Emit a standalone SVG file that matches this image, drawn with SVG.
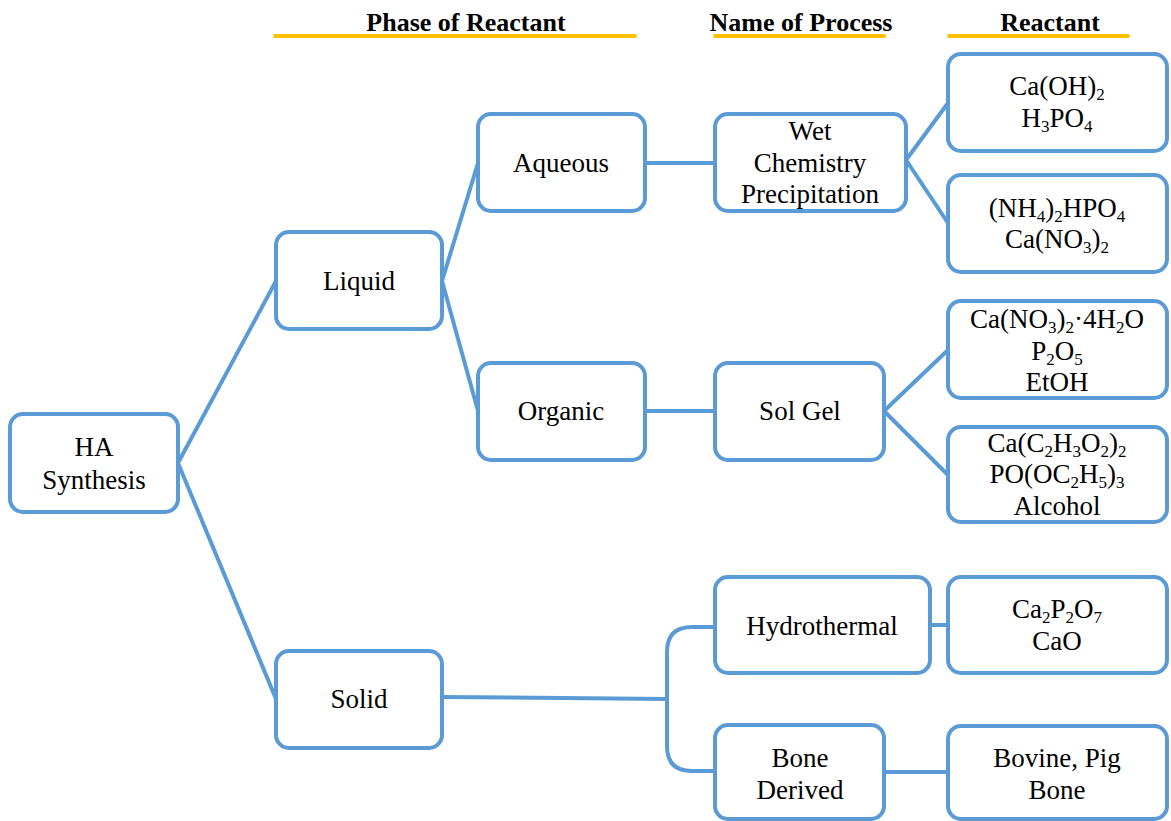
<svg xmlns="http://www.w3.org/2000/svg" width="1171" height="821" viewBox="0 0 1171 821">
<defs>
<style>
.box{fill:#fff;stroke:#5B9BD5;stroke-width:4}
.con{fill:none;stroke:#5B9BD5;stroke-width:4}
.ul{stroke:#FFC000;stroke-width:4;stroke-linecap:round}
.s{font-size:17px}
</style>
</defs>
<rect width="1171" height="821" fill="#fff"/>
<g id="headers" font-family="Liberation Serif" font-size="26" font-weight="bold" text-anchor="middle" fill="#000">
<text x="466" y="31">Phase of Reactant</text>
<line class="ul" x1="275" y1="36" x2="635" y2="36"/>
<text x="801" y="31">Name of Process</text>
<line class="ul" x1="715" y1="36" x2="884" y2="36"/>
<text x="1050" y="31">Reactant</text>
<line class="ul" x1="949" y1="36" x2="1128" y2="36"/>
</g>
<g id="connectors">
<path class="con" d="M178,463 L276,281 M178,463 L276,699"/>
<path class="con" d="M442,281 L478,163 M442,281 L478,411"/>
<path class="con" d="M645,163 H715 M645,411 H715"/>
<path class="con" d="M906,160 L948,103 M906,160 L948,223"/>
<path class="con" d="M884,411 L948,350 M884,411 L948,475"/>
<path class="con" d="M442,697 L667,699"/>
<path class="con" d="M715,627 H692 Q667,627 667,652 V746 Q667,771 692,771 H715"/>
<path class="con" d="M930,625 H948 M884,772 H948"/>
</g>
<g id="nodes" font-family="Liberation Serif" font-size="27" text-anchor="middle" fill="#000">
<g id="ha"><rect class="box" x="10" y="414" width="168" height="98" rx="13"/>
<text x="94" y="456">HA</text><text x="94" y="489">Synthesis</text></g>
<g id="liquid"><rect class="box" x="276" y="232" width="166" height="97" rx="13"/>
<text x="359" y="290">Liquid</text></g>
<g id="solid"><rect class="box" x="276" y="651" width="166" height="97" rx="13"/>
<text x="359" y="708">Solid</text></g>
<g id="aqueous"><rect class="box" x="478" y="114" width="167" height="97" rx="13"/>
<text x="561" y="172">Aqueous</text></g>
<g id="organic"><rect class="box" x="478" y="363" width="167" height="97" rx="13"/>
<text x="561" y="420">Organic</text></g>
<g id="wet"><rect class="box" x="715" y="114" width="191" height="97" rx="13"/>
<text x="810" y="140">Wet</text><text x="810" y="172">Chemistry</text><text x="810" y="203">Precipitation</text></g>
<g id="solgel"><rect class="box" x="715" y="363" width="169" height="97" rx="13"/>
<text x="800" y="420">Sol Gel</text></g>
<g id="hydro"><rect class="box" x="715" y="577" width="215" height="96" rx="13"/>
<text x="822" y="635">Hydrothermal</text></g>
<g id="bone"><rect class="box" x="715" y="725" width="169" height="94" rx="13"/>
<text x="800" y="767">Bone</text><text x="800" y="799">Derived</text></g>
<g id="r1"><rect class="box" x="948" y="54" width="219" height="97" rx="13"/>
<text x="1057" y="95">Ca(OH)<tspan class="s" dy="5">2</tspan></text>
<text x="1057" y="127">H<tspan class="s" dy="5">3</tspan><tspan dy="-5">PO</tspan><tspan class="s" dy="5">4</tspan></text></g>
<g id="r2"><rect class="box" x="948" y="175" width="219" height="97" rx="13"/>
<text x="1057" y="217">(NH<tspan class="s" dy="5">4</tspan><tspan dy="-5">)</tspan><tspan class="s" dy="5">2</tspan><tspan dy="-5">HPO</tspan><tspan class="s" dy="5">4</tspan></text>
<text x="1057" y="248">Ca(NO<tspan class="s" dy="5">3</tspan><tspan dy="-5">)</tspan><tspan class="s" dy="5">2</tspan></text></g>
<g id="r3"><rect class="box" x="948" y="301" width="219" height="97" rx="13"/>
<text x="1057" y="328">Ca(NO<tspan class="s" dy="5">3</tspan><tspan dy="-5">)</tspan><tspan class="s" dy="5">2</tspan><tspan dy="-5">&#183;4H</tspan><tspan class="s" dy="5">2</tspan><tspan dy="-5">O</tspan></text>
<text x="1057" y="360">P<tspan class="s" dy="5">2</tspan><tspan dy="-5">O</tspan><tspan class="s" dy="5">5</tspan></text>
<text x="1057" y="391">EtOH</text></g>
<g id="r4"><rect class="box" x="948" y="427" width="219" height="95" rx="13"/>
<text x="1057" y="452">Ca(C<tspan class="s" dy="5">2</tspan><tspan dy="-5">H</tspan><tspan class="s" dy="5">3</tspan><tspan dy="-5">O</tspan><tspan class="s" dy="5">2</tspan><tspan dy="-5">)</tspan><tspan class="s" dy="5">2</tspan></text>
<text x="1057" y="483">PO(OC<tspan class="s" dy="5">2</tspan><tspan dy="-5">H</tspan><tspan class="s" dy="5">5</tspan><tspan dy="-5">)</tspan><tspan class="s" dy="5">3</tspan></text>
<text x="1057" y="515">Alcohol</text></g>
<g id="r5"><rect class="box" x="948" y="577" width="219" height="96" rx="13"/>
<text x="1057" y="618">Ca<tspan class="s" dy="5">2</tspan><tspan dy="-5">P</tspan><tspan class="s" dy="5">2</tspan><tspan dy="-5">O</tspan><tspan class="s" dy="5">7</tspan></text>
<text x="1057" y="650">CaO</text></g>
<g id="r6"><rect class="box" x="948" y="726" width="219" height="93" rx="13"/>
<text x="1057" y="767">Bovine, Pig</text><text x="1057" y="799">Bone</text></g>
</g>
</svg>
